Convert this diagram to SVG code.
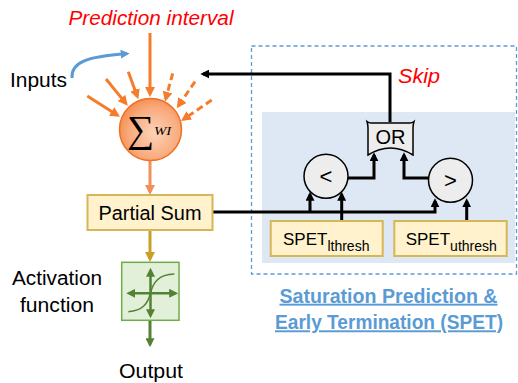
<svg xmlns="http://www.w3.org/2000/svg" width="518" height="383" viewBox="0 0 518 383">
<style>
text{font-family:"Liberation Sans",Arial,sans-serif;fill:#000}
.lbl{font-size:19.5px}
.red{fill:#ff0000;font-style:italic;font-size:19.5px}
.blk{fill:none;stroke:#000;stroke-width:3}
.org{fill:none;stroke:#f57c2a;stroke-width:3}
.dash{stroke-dasharray:7 4}
.ybox{fill:#fff2cc;stroke:#d6b656;stroke-width:2}
.cmp{fill:#ededed;stroke:#000;stroke-width:1.5}
.grn{fill:none;stroke:#548235;stroke-width:2.5}
.title{font-size:19.5px;font-weight:bold;fill:#5b9bd5;text-decoration:underline}
.spet{font-size:17px}
.sub{font-size:14px}
</style>
<defs>
<marker id="ao" viewBox="0 0 10 10" refX="7" refY="5" markerWidth="10" markerHeight="10" markerUnits="userSpaceOnUse" orient="auto"><path d="M0,0L10,5L0,10z" fill="#f57c2a"/></marker>
<marker id="as" viewBox="0 0 10 10" refX="7" refY="5" markerWidth="10" markerHeight="10" markerUnits="userSpaceOnUse" orient="auto"><path d="M0,0L10,5L0,10z" fill="#f0905a"/></marker>
<marker id="ag" viewBox="0 0 10 10" refX="7" refY="5" markerWidth="10" markerHeight="10" markerUnits="userSpaceOnUse" orient="auto"><path d="M0,0L10,5L0,10z" fill="#c9a027"/></marker>
<marker id="ak" viewBox="0 0 10 10" refX="7" refY="5" markerWidth="9" markerHeight="9" markerUnits="userSpaceOnUse" orient="auto"><path d="M0,0L10,5L0,10z" fill="#000"/></marker>
<marker id="ab" viewBox="0 0 10 10" refX="7" refY="5" markerWidth="9" markerHeight="9" markerUnits="userSpaceOnUse" orient="auto"><path d="M0,0L10,5L0,10z" fill="#5b9bd5"/></marker>
<marker id="adg" viewBox="0 0 10 10" refX="7" refY="5" markerWidth="9" markerHeight="9" markerUnits="userSpaceOnUse" orient="auto-start-reverse"><path d="M0,0L10,5L0,10z" fill="#548235"/></marker>
<radialGradient id="neu" cx="0.56" cy="0.56" r="0.62">
<stop offset="0" stop-color="#fdd3b8"/>
<stop offset="0.65" stop-color="#f9ab7e"/>
<stop offset="1" stop-color="#f4894a"/>
</radialGradient>
</defs>

<g id="spet-region">
<rect x="251.5" y="46" width="265" height="228" fill="none" stroke="#5b9bd5" stroke-width="1.3" stroke-dasharray="4 3"/>
<rect x="262" y="112" width="253" height="151" fill="#dee8f4"/>
</g>

<g id="labels">
<text class="red" x="151" y="24.5" text-anchor="middle" textLength="165" lengthAdjust="spacingAndGlyphs">Prediction interval</text>
<text class="lbl" x="10" y="87" textLength="57" lengthAdjust="spacingAndGlyphs">Inputs</text>
<text class="red" x="398" y="83" textLength="42" lengthAdjust="spacingAndGlyphs">Skip</text>
<text class="lbl" x="57" y="285" text-anchor="middle" textLength="90" lengthAdjust="spacingAndGlyphs">Activation</text>
<text class="lbl" x="57" y="311.5" text-anchor="middle" textLength="74" lengthAdjust="spacingAndGlyphs">function</text>
<text class="lbl" x="151" y="378" text-anchor="middle" textLength="64" lengthAdjust="spacingAndGlyphs">Output</text>
<text class="title" x="388.5" y="302.7" text-anchor="middle" textLength="218" lengthAdjust="spacingAndGlyphs">Saturation Prediction &amp;</text>
<text class="title" x="389" y="329.3" text-anchor="middle" textLength="228" lengthAdjust="spacingAndGlyphs">Early Termination (SPET)</text>
</g>

<g id="connectors">
<path class="org" d="M87.3,96 L117.5,115.2" marker-end="url(#ao)"/>
<path class="org" d="M106,79 L125.9,103.4" marker-end="url(#ao)"/>
<path class="org" d="M128.3,71.7 L137.3,96.5" marker-end="url(#ao)"/>
<path class="org" d="M150,33 L150,94" marker-end="url(#ao)"/>
<path class="org dash" d="M172.7,73.3 L165.8,98.8" marker-end="url(#ao)"/>
<path class="org dash" d="M195,81.7 L178.4,105.8" marker-end="url(#ao)"/>
<path class="org dash" d="M211.7,100 L183.5,119.3" marker-end="url(#ao)"/>
<path d="M72,78 C71,62 86,57 127,53.6" fill="none" stroke="#5b9bd5" stroke-width="3" marker-end="url(#ab)"/>
<path class="blk" d="M390,122 V74 H203" marker-end="url(#ak)"/>
<path d="M150,161 V192" fill="none" stroke="#f0905a" stroke-width="3" marker-end="url(#as)"/>
<path d="M150,230 V259" fill="none" stroke="#c9a027" stroke-width="3" marker-end="url(#ag)"/>
<path d="M150,320.5 V344.5" fill="none" stroke="#548235" stroke-width="3" marker-end="url(#adg)"/>
<path class="blk" d="M212,212 H435 V201" marker-end="url(#ak)"/>
<path class="blk" d="M310,212 V194.5" marker-end="url(#ak)"/>
<path class="blk" d="M341.7,221 V194.5" marker-end="url(#ak)"/>
<path class="blk" d="M466.7,221 V201" marker-end="url(#ak)"/>
<path class="blk" d="M348,178 H374 V155" marker-end="url(#ak)"/>
<path class="blk" d="M428.5,178 H404 V155" marker-end="url(#ak)"/>
</g>

<g id="neuron">
<circle cx="150.5" cy="129.5" r="31" fill="url(#neu)" stroke="#f07020" stroke-width="1.5"/>
<text x="140.7" y="142" text-anchor="middle" style="font-family:'Liberation Serif','DejaVu Serif',serif;font-size:38px">∑</text>
<text x="154" y="134.7" style="font-family:'Liberation Serif',serif;font-style:italic;font-size:12px" textLength="17.3" lengthAdjust="spacingAndGlyphs">WI</text>
</g>

<g id="partial-sum">
<rect class="ybox" x="87.5" y="195" width="125" height="35"/>
<text class="lbl" x="150" y="219.5" text-anchor="middle" textLength="103" lengthAdjust="spacingAndGlyphs">Partial Sum</text>
</g>

<g id="activation">
<rect x="121.7" y="262.3" width="57.3" height="58" fill="#e2efd9" stroke="#70ad47" stroke-width="1.5"/>
<path class="grn" d="M129,293.3 H175.5" marker-start="url(#adg)" marker-end="url(#adg)"/>
<path class="grn" d="M150.5,270.5 V315.5" marker-start="url(#adg)" marker-end="url(#adg)"/>
<path d="M128.3,311.7 C143,311 148,303 150.5,293 C153,283 158,274.5 174.3,274" fill="none" stroke="#548235" stroke-width="1.5"/>
</g>

<g id="or-gate">
<path class="cmp" d="M367,121.5 Q369,123 371,123 H410 Q412,123 414,121.5 Q413,125 413,128 V155 Q390.5,141 368,155 V128 Q368,125 367,121.5 Z"/>
<text class="lbl" x="390.5" y="144" text-anchor="middle" textLength="30" lengthAdjust="spacingAndGlyphs">OR</text>
</g>

<g id="cmp-lt">
<circle class="cmp" cx="326" cy="176.3" r="22"/>
<text x="326" y="183.5" text-anchor="middle" style="font-size:22px">&lt;</text>
</g>

<g id="cmp-gt">
<circle class="cmp" cx="450.5" cy="180.3" r="22"/>
<text x="450.5" y="187.5" text-anchor="middle" style="font-size:22px">&gt;</text>
</g>

<g id="spet-lthresh">
<rect class="ybox" x="270.7" y="221" width="112" height="35"/>
<text class="spet" x="283" y="245">SPET<tspan class="sub" dy="5.7">lthresh</tspan></text>
</g>

<g id="spet-uthresh">
<rect class="ybox" x="394.3" y="221" width="112.4" height="35"/>
<text class="spet" x="405.7" y="245">SPET<tspan class="sub" dy="5.7">uthresh</tspan></text>
</g>
</svg>
